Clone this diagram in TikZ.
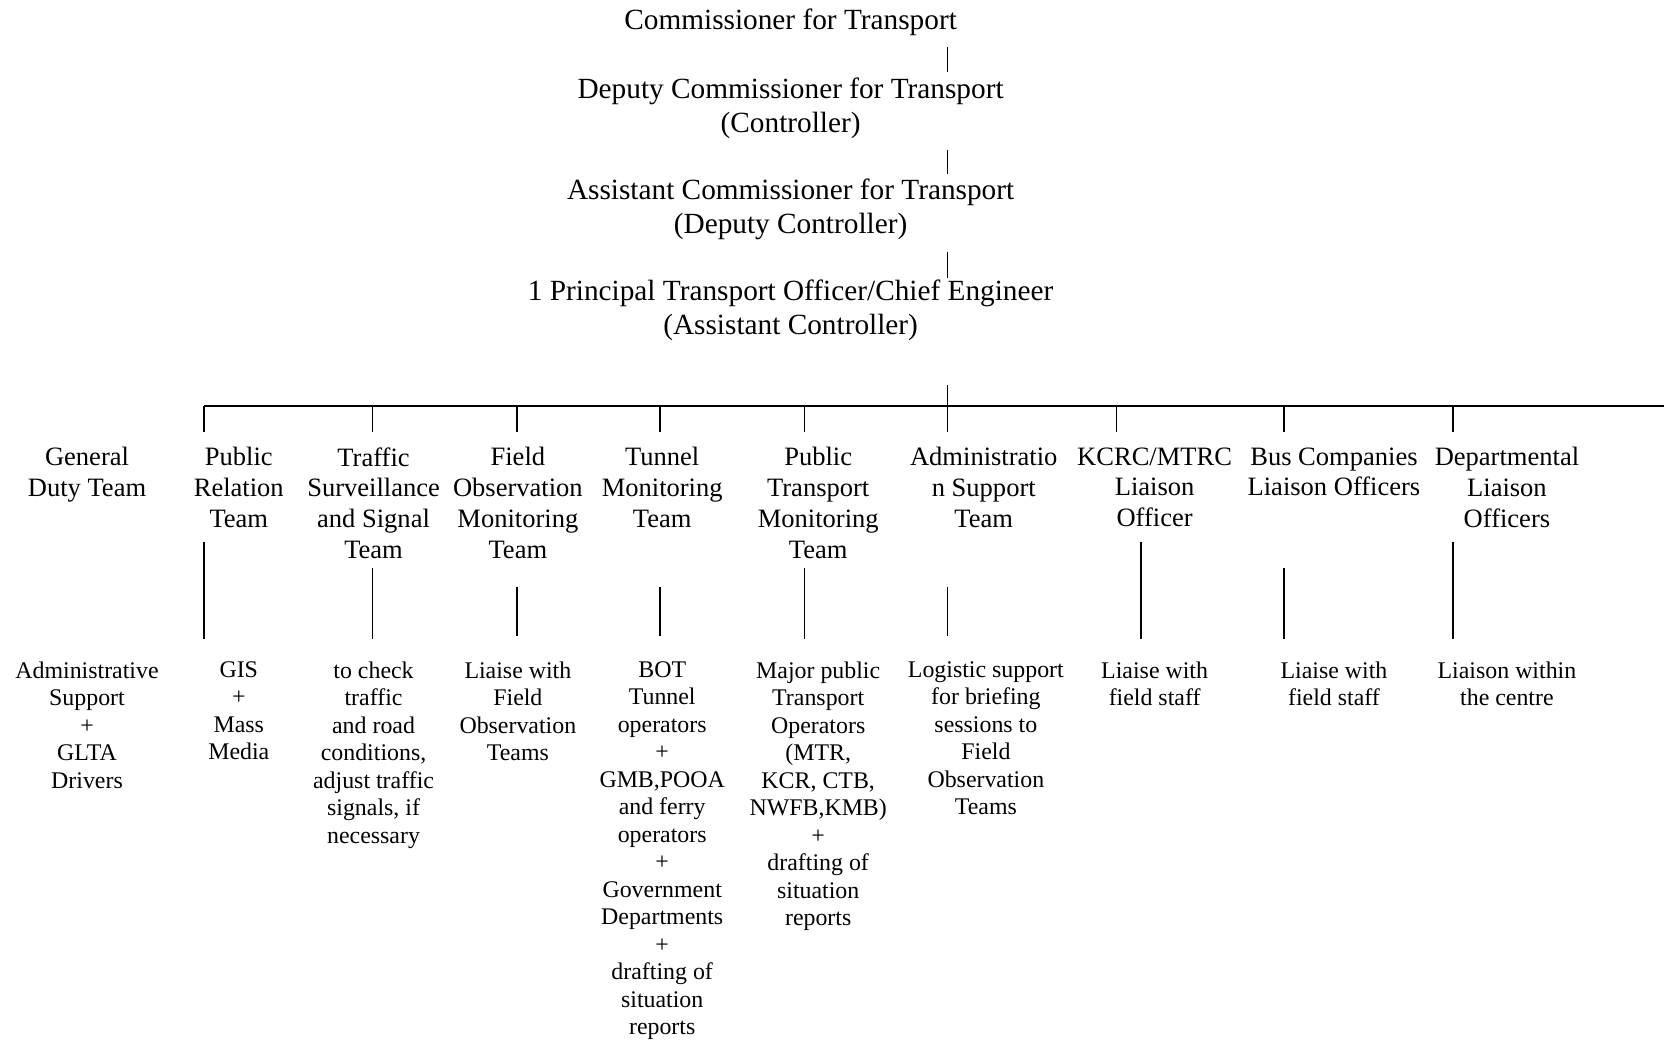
\documentclass[tikz,border=0pt]{standalone}
\usepackage{fontspec}
\setmainfont{Liberation Serif}
\begin{document}
\begin{tikzpicture}[x=0.5pt,y=-0.5pt,
  toptext/.style={font=\fontsize{13.8}{16}\selectfont, align=center, anchor=north, inner sep=0pt},
  team/.style={font=\fontsize{12.5}{14.5}\selectfont, align=center, anchor=north, inner sep=0pt},
  desc/.style={font=\fontsize{11.25}{12.95}\selectfont, align=center, anchor=north, inner sep=0pt},
  conn/.style={line width=0.7pt},
  bar/.style={line width=0.95pt}]
\useasboundingbox (0,0) rectangle (1568,980);

% top chain
\node[toptext] (comm) at (745,8.3) {Commissioner for Transport};
\node[toptext] (dep) at (745,73.3) {Deputy Commissioner for Transport\\(Controller)};
\node[toptext] (asst) at (745,168.3) {Assistant Commissioner for Transport\\(Deputy Controller)};
\node[toptext] (pto) at (745,263.3) {1 Principal Transport Officer/Chief Engineer\\(Assistant Controller)};

\coordinate (l1a) at (893,44); \coordinate (l1b) at (893,68);
\coordinate (l2a) at (893,141); \coordinate (l2b) at (893,164);
\coordinate (l3a) at (893,237); \coordinate (l3b) at (893,262);
\coordinate (l4a) at (893,363); \coordinate (l4b) at (893,407);
\draw[conn] (l1a) -- (l1b);
\draw[conn] (l2a) -- (l2b);
\draw[conn] (l3a) -- (l3b);
\draw[conn] (l4a) -- (l4b);

% horizontal bar
\coordinate (barL) at (192,383); \coordinate (barR) at (1568,383);
\draw[bar] (barL) -- (barR);

% ticks
\foreach \x [count=\i] in {192,351,487,622,758,1052,1210,1369}{
  \coordinate (t\i a) at (\x,383);
  \coordinate (t\i b) at (\x,407);
  \draw[conn] (t\i a) -- (t\i b);
}

% teams
\node[team] (gd) at (82,421.25) {General\\Duty Team};
\node[team] (pr) at (225,421.25) {Public\\Relation\\Team};
\node[team] (ts) at (352,421.25) {Traffic\\Surveillance\\and Signal\\Team};
\node[team] (fo) at (488,421.25) {Field\\Observation\\Monitoring\\Team};
\node[team] (tm) at (624,421.25) {Tunnel\\Monitoring\\Team};
\node[team] (pt) at (771,421.25) {Public\\Transport\\Monitoring\\Team};
\node[team] (as) at (927,421.25) {Administratio\\n Support\\Team};
\node[team] (kc) at (1088,421.25) {KCRC/MTRC\\Liaison\\Officer};
\node[team] (bc) at (1257,421.25) {Bus Companies\\Liaison Officers};
\node[team] (dl) at (1420,421.25) {Departmental\\Liaison\\Officers};

% lower connectors
\foreach \x/\ya/\yb [count=\i] in {192/511/602, 351/535/602, 487/553/599, 622/553/599, 758/535/602, 893/553/599, 1075/511/602, 1210/535/602, 1369/511/602}{
  \coordinate (d\i a) at (\x,\ya);
  \coordinate (d\i b) at (\x,\yb);
  \draw[conn] (d\i a) -- (d\i b);
}

% descriptions
\node[desc] (gdd) at (82,623) {Administrative\\Support\\+\\GLTA\\Drivers};
\node[desc] (prd) at (225,623) {GIS\\+\\Mass\\Media};
\node[desc] (tsd) at (352,623) {to check\\traffic\\and road\\conditions,\\adjust traffic\\signals, if\\necessary};
\node[desc] (fod) at (488,623) {Liaise with\\Field\\Observation\\Teams};
\node[desc] (tmd) at (624,623) {BOT\\Tunnel\\operators\\+\\GMB,POOA\\and ferry\\operators\\+\\Government\\Departments\\+\\drafting of\\situation\\reports};
\node[desc] (ptd) at (771,623) {Major public\\Transport\\Operators\\(MTR,\\KCR, CTB,\\NWFB,KMB)\\+\\drafting of\\situation\\reports};
\node[desc] (asd) at (929,623) {Logistic support\\for briefing\\sessions to\\Field\\Observation\\Teams};
\node[desc] (kcd) at (1088,623) {Liaise with\\field staff};
\node[desc] (bcd) at (1257,623) {Liaise with\\field staff};
\node[desc] (dld) at (1420,623) {Liaison within\\the centre};
\end{tikzpicture}
\end{document}
